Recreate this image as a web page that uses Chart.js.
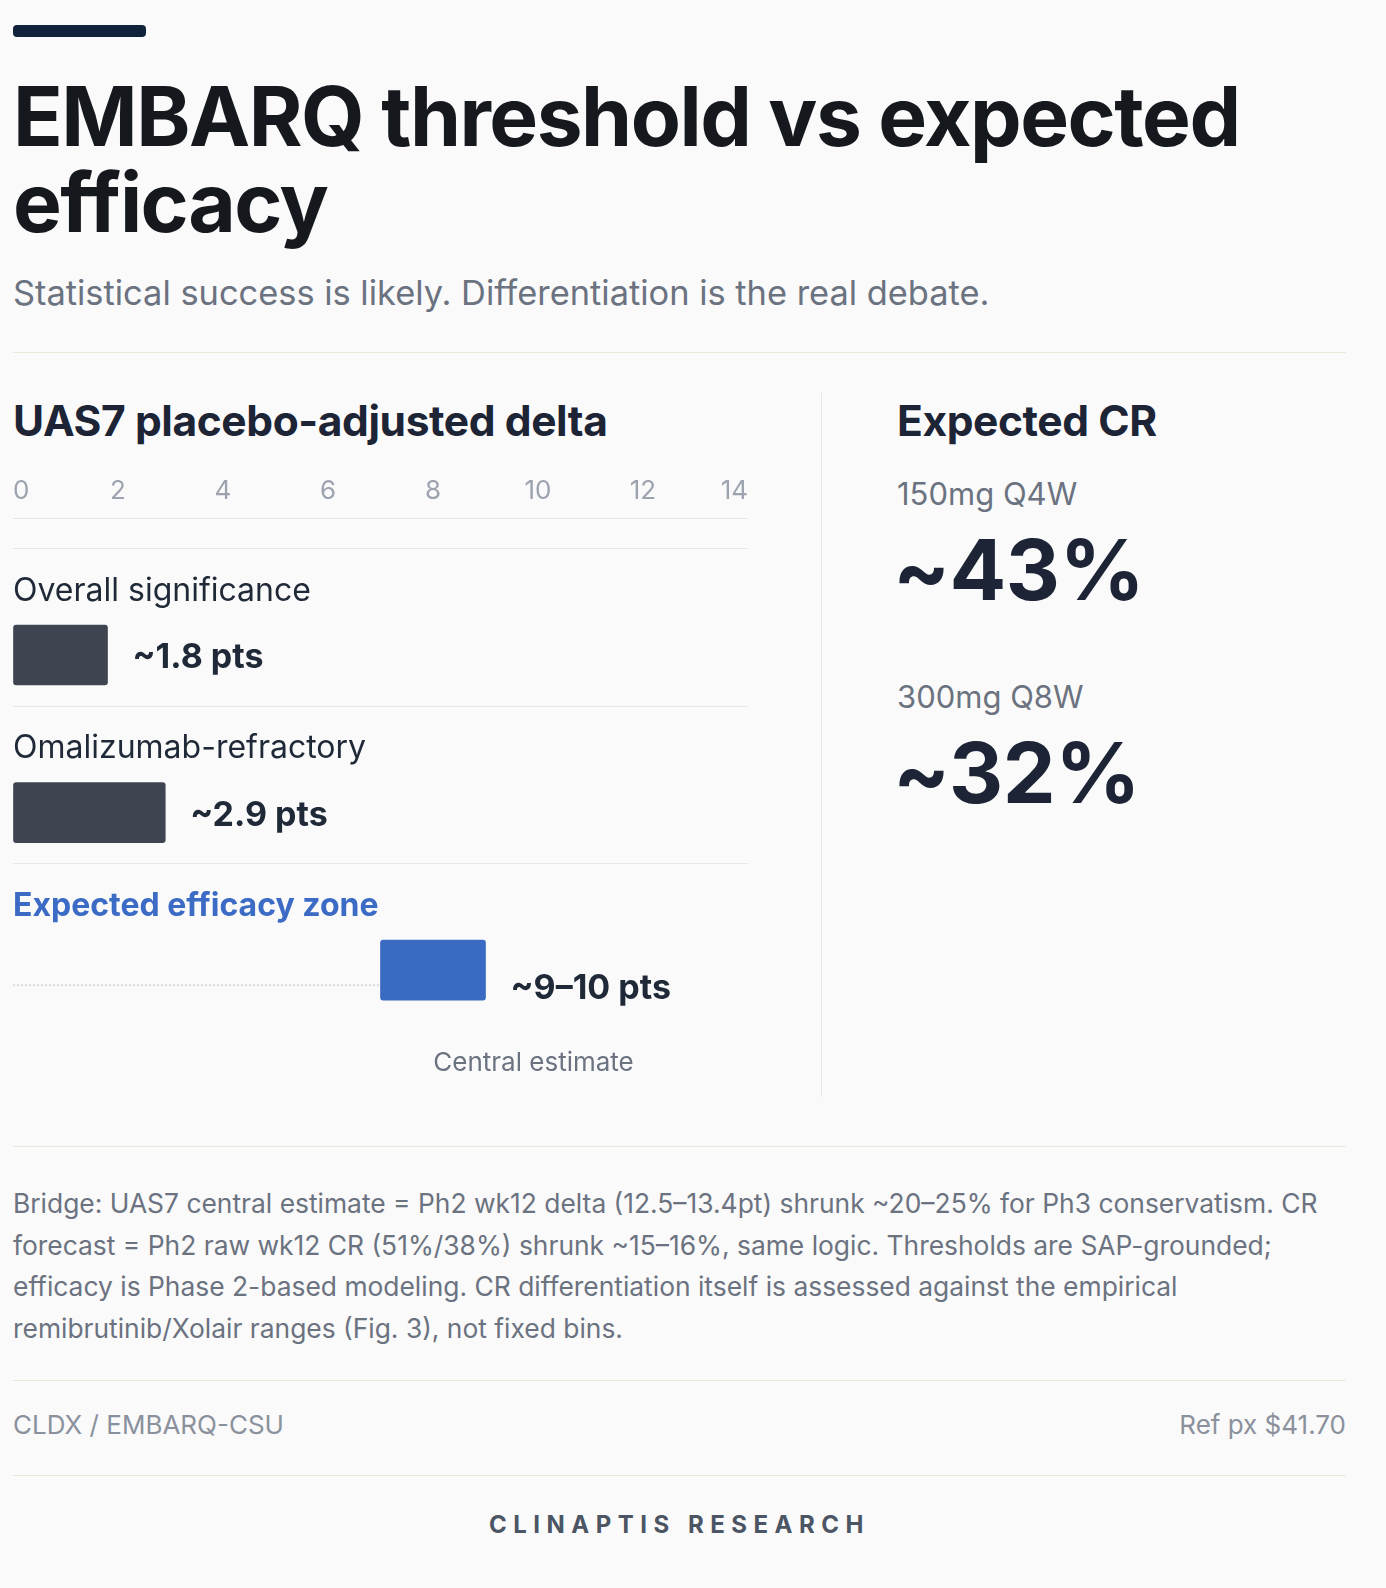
<!DOCTYPE html>
<html>
<head>
<meta charset="utf-8">
<script src="https://cdn.jsdelivr.net/npm/chart.js@4.4.1/dist/chart.umd.min.js"></script>
<style>
  html, body { margin: 0; padding: 0; background: #fafafa; }
  body { width: 1386px; height: 1588px; position: relative; font-family: Inter, "Noto Sans", sans-serif; color: #1f2937; }
  .abs { position: absolute; white-space: nowrap; }
  .rule { position: absolute; left: 13px; width: 1333px; height: 1px; background: #ebe7dc; }
  #topbar { left: 13px; top: 25px; width: 133px; height: 12px; border-radius: 4px; background: #10233a; }
  #title { left: 13px; top: 74px; font-size: 82px; line-height: 86px; font-weight: 700; letter-spacing: -1.5px; color: #15181d; white-space: normal; width: 1300px; }
  #subtitle { left: 13px; top: 273px; font-size: 34.4px; line-height: 40px; color: #6b7280; }
  .panelhead { font-size: 42.5px; line-height: 48px; font-weight: 700; letter-spacing: -0.4px; color: #1c2435; }
  #vline { position: absolute; left: 821px; top: 393px; width: 1px; height: 704px; background: #e5e7eb; }
  .crlabel { font-size: 31px; line-height: 38px; color: #6b7280; }
  .crvalue { font-size: 84px; line-height: 90px; font-weight: 700; color: #1c2435; letter-spacing: -0.5px; }
  #chartbox { position: absolute; left: 13px; top: 460px; width: 735px; height: 640px; }
  #note { left: 13px; top: 1183px; width: 1333px; font-size: 26.4px; line-height: 41.5px; color: #6b7280; white-space: normal; }
  .foot { font-size: 26px; line-height: 32px; color: #8b919c; }
  #brand { left: 13px; width: 1333px; top: 1509px; text-align: center; font-size: 24px; line-height: 32px; font-weight: 700; letter-spacing: 6.5px; color: #4b5563; }
</style>
</head>
<body>
<div class="abs" id="topbar"></div>
<div class="abs" id="title">EMBARQ threshold vs expected efficacy</div>
<div class="abs" id="subtitle">Statistical success is likely. Differentiation is the real debate.</div>
<div class="rule" style="top:352px"></div>

<div class="abs panelhead" style="left:13px; top:397px">UAS7 placebo-adjusted delta</div>
<div id="chartbox"><canvas id="chart"></canvas></div>

<div id="vline"></div>
<div class="abs panelhead" style="left:897px; top:397px">Expected CR</div>
<div id="crbox"></div>

<div class="rule" style="top:1146px"></div>
<div class="abs" id="note">Bridge: UAS7 central estimate = Ph2 wk12 delta (12.5–13.4pt) shrunk ~20–25% for Ph3 conservatism. CR forecast = Ph2 raw wk12 CR (51%/38%) shrunk ~15–16%, same logic. Thresholds are SAP-grounded; efficacy is Phase 2-based modeling. CR differentiation itself is assessed against the empirical remibrutinib/Xolair ranges (Fig. 3), not fixed bins.</div>
<div class="rule" style="top:1380px"></div>
<div class="abs foot" style="left:13px; top:1409px">CLDX / EMBARQ-CSU</div>
<div class="abs foot" style="right:40px; top:1409px">Ref px $41.70</div>
<div class="rule" style="top:1475px"></div>
<div class="abs" id="brand">CLINAPTIS RESEARCH</div>

<script>
// data
const rowNames = ['Overall significance', 'Omalizumab-refractory', 'Expected efficacy zone'];
const barStart = [0, 0, 7];
const barEnd = [1.8, 2.9, 9];
const valueText = ['~1.8 pts', '~2.9 pts', '~9–10 pts'];
const axisTicks = [0, 2, 4, 6, 8, 10, 12, 14];

const crDoses = ['150mg Q4W', '300mg Q8W'];
const crValues = [43, 32];

// right panel
let crBox = document.getElementById('crbox');
let crTops = [475, 678];
crDoses.forEach((d, i) => {
    let l = document.createElement('div');
    l.className = 'abs crlabel';
    l.style.left = '897px';
    l.style.top = crTops[i] + 'px';
    l.textContent = d;
    crBox.appendChild(l);
    let v = document.createElement('div');
    v.className = 'abs crvalue';
    v.style.left = '893px';
    v.style.top = (crTops[i] + 50) + 'px';
    v.textContent = '~' + crValues[i] + '%';
    crBox.appendChild(v);
});

const barColors = ['#3f4451', '#3f4451', '#3a6bc2'];
const titleColors = ['#1f2937', '#1f2937', '#3b6bc4'];
const titleWeights = ['400', '400', '700'];

// titles, separators and value labels around each bar
const rowDecor = {
    id: 'rowDecor',
    afterDatasetsDraw(chart) {
        const ctx = chart.ctx;
        const area = chart.chartArea;
        const xs = chart.scales.x;
        const meta = chart.getDatasetMeta(0);
        ctx.save();
        ctx.strokeStyle = '#e5e7eb';
        ctx.lineWidth = 1;
        ctx.beginPath();
        ctx.moveTo(area.left, Math.round(area.top - 58) + 0.5);
        ctx.lineTo(area.right, Math.round(area.top - 58) + 0.5);
        ctx.stroke();
        meta.data.forEach((bar, i) => {
            const cy = bar.y;
            ctx.strokeStyle = '#e5e7eb';
            ctx.beginPath();
            ctx.moveTo(area.left, Math.round(cy - 107) + 0.5);
            ctx.lineTo(area.right, Math.round(cy - 107) + 0.5);
            ctx.stroke();

            ctx.fillStyle = titleColors[i];
            ctx.font = titleWeights[i] + ' 32px Inter';
            ctx.textBaseline = 'middle';
            ctx.textAlign = 'left';
            ctx.fillText(rowNames[i], area.left, cy - 64);

            const left = xs.getPixelForValue(barStart[i]);
            const right = xs.getPixelForValue(barEnd[i]);
            const dy = i === 2 ? 19 : 3;
            ctx.fillStyle = '#1f2937';
            ctx.font = '700 34px Inter';
            ctx.fillText(valueText[i], right + 25, cy + dy);

            if (barStart[i] > 0) {
                ctx.strokeStyle = '#d6d9de';
                ctx.lineWidth = 2;
                ctx.setLineDash([2, 2]);
                ctx.beginPath();
                ctx.moveTo(area.left, cy + 15);
                ctx.lineTo(left, cy + 15);
                ctx.stroke();
                ctx.setLineDash([]);
                ctx.lineWidth = 1;
                ctx.fillStyle = '#6b7280';
                ctx.font = '400 26px Inter';
                ctx.textAlign = 'center';
                ctx.fillText('Central estimate', right + 48, cy + 93);
            }
        });
        ctx.restore();
    }
};

const ctx = document.getElementById('chart').getContext('2d');
let chart = new Chart(ctx, {
    type: 'bar',
    data: {
        labels: rowNames,
        datasets: [{
            data: barStart.map((s, i) => [s, barEnd[i]]),
            backgroundColor: barColors,
            borderRadius: 3,
            borderSkipped: false,
            barThickness: 60
        }]
    },
    options: {
        indexAxis: 'y',
        responsive: true,
        maintainAspectRatio: false,
        animation: false,
        layout: { padding: { top: 16, bottom: 51, left: 0, right: 0 } },
        plugins: { legend: { display: false }, tooltip: { enabled: false } },
        scales: {
            x: {
                position: 'top',
                min: 0,
                max: 14,
                afterBuildTicks: (s) => { s.ticks = axisTicks.map(v => ({ value: v })); },
                grid: { display: true, drawOnChartArea: false, drawTicks: true, tickLength: 69, color: 'rgba(0,0,0,0)' },
                border: { display: false },
                ticks: {
                    align: 'inner',
                    padding: 0,
                    color: '#9ca3af',
                    font: { family: 'Inter', size: 26 }
                }
            },
            y: { display: false }
        }
    },
    plugins: [rowDecor]
});
</script>
</body>
</html>
